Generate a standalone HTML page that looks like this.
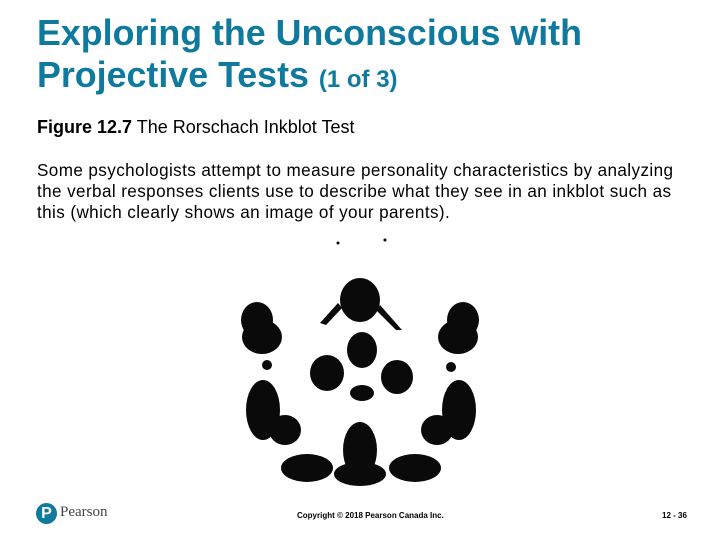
<!DOCTYPE html>
<html><head><meta charset="utf-8"><style>
body{margin:0;width:720px;height:540px;background:#fff;overflow:hidden;position:relative;font-family:"Liberation Sans",Arial,sans-serif}
.t{position:absolute;left:37px;top:12px;color:#0f7a9e;font-weight:bold;font-size:35.8px;line-height:42px;margin:0}
.t small{font-size:24px}
.f{position:absolute;left:37px;top:117px;font-size:18px;color:#000}
.p{position:absolute;left:37px;top:160px;width:680px;font-size:17.1px;letter-spacing:0.4px;line-height:21px;color:#000;white-space:nowrap}
.ft{position:absolute;top:511px;font-size:8px;font-weight:bold}
</style></head><body>
<h1 class="t">Exploring the Unconscious with<br>Projective Tests <small>(1 of 3)</small></h1>
<div class="f"><b>Figure 12.7</b> The Rorschach Inkblot Test</div>
<div class="p">Some psychologists attempt to measure personality characteristics by analyzing<br>the verbal responses clients use to describe what they see in an inkblot such as<br>this (which clearly shows an image of your parents).</div>
<svg style="position:absolute;left:0;top:0" width="720" height="540">
<g fill="#0a0a0a">
<circle cx="338" cy="243" r="1.5"/><circle cx="385" cy="240" r="1.5"/>
<ellipse cx="360" cy="300" rx="20" ry="22"/>
<path d="M320 323 L338 303 L342 308 L326 325Z M402 330 L380 305 L376 310 L396 330Z"/>
<ellipse cx="362" cy="350" rx="15" ry="18"/>
<ellipse cx="327" cy="373" rx="17" ry="18"/>
<ellipse cx="397" cy="377" rx="16" ry="17"/>
<ellipse cx="362" cy="393" rx="12" ry="8"/>
<ellipse cx="257" cy="320" rx="16" ry="18"/><ellipse cx="262" cy="337" rx="20" ry="17"/>
<ellipse cx="463" cy="320" rx="16" ry="18"/><ellipse cx="458" cy="337" rx="20" ry="17"/>
<circle cx="267" cy="365" r="5"/><circle cx="451" cy="367" r="5"/>
<ellipse cx="263" cy="410" rx="17" ry="30"/><ellipse cx="285" cy="430" rx="16" ry="15"/>
<ellipse cx="459" cy="410" rx="17" ry="30"/><ellipse cx="437" cy="430" rx="16" ry="15"/>
<ellipse cx="360" cy="450" rx="17" ry="28"/><ellipse cx="360" cy="474" rx="26" ry="12"/>
<ellipse cx="307" cy="468" rx="26" ry="14"/><ellipse cx="415" cy="468" rx="26" ry="14"/>
</g></svg>
<div style="position:absolute;left:36px;top:503px;width:21px;height:21px;border-radius:50%;background:#0f7a9e;color:#fff;font-weight:bold;font-size:16px;text-align:center;line-height:21px">P</div>
<div style="position:absolute;left:60px;top:504px;font-family:'Liberation Serif',serif;font-size:15px;color:#444">Pearson</div>
<div class="ft" style="left:297px">Copyright © 2018 Pearson Canada Inc.</div>
<div class="ft" style="left:662px">12 - 36</div>
</body></html>
